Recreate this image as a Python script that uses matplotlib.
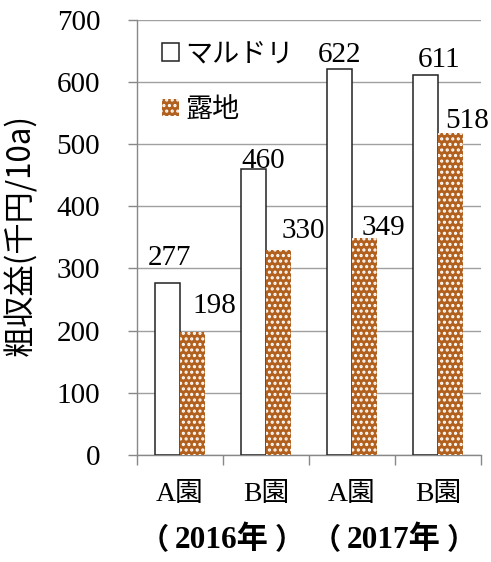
import matplotlib
matplotlib.use("Agg")
import matplotlib.pyplot as plt
import numpy as np

plt.rcParams['font.family'] = ['Liberation Serif', 'Noto Sans CJK JP']
plt.rcParams['hatch.linewidth'] = 1.5
plt.rcParams['hatch.color'] = 'white'

categories = ["A園", "B園", "A園", "B園"]
years = ["2016年", "2017年"]
maruduri = [277, 460, 622, 611]
roji = [198, 330, 349, 518]
series_names = ["マルドリ", "露地"]

# label placement (style): horizontal offset (category units), vertical gap (value units)
white_lbl_dx = [0.02, 0.11, 0.0, 0.15]
white_lbl_dy = [29, 2, 11, 13]
brown_lbl_dx = [0.26, 0.29, 0.215, 0.19]
brown_lbl_dy = [30, 19, 5, 9]

fig = plt.figure(figsize=(4.91, 5.62), dpi=100)
ax = fig.add_axes([0.279, 0.191, 0.701, 0.773])

x = np.arange(len(categories))
w = 0.29
brown = '#B2601E'
ax.bar(x - w/2, maruduri, w, color='white', edgecolor='#222222', linewidth=1.1,
       label=series_names[0], zorder=3)
ax.bar(x + w/2, roji, w, color=brown, edgecolor='white', hatch='...', linewidth=0,
       label=series_names[1], zorder=3)

FS = 21
for i in range(len(categories)):
    ax.text(x[i] - w/2 + white_lbl_dx[i], maruduri[i] + white_lbl_dy[i], str(maruduri[i]),
            ha='center', va='baseline', fontsize=FS, family='Liberation Serif', zorder=4)
    ax.text(x[i] + w/2 + brown_lbl_dx[i], roji[i] + brown_lbl_dy[i], str(roji[i]),
            ha='center', va='baseline', fontsize=FS, family='Liberation Serif', zorder=4)

ax.set_xlim(-0.5, 3.5)
ax.set_ylim(0, 700)
ax.set_yticks(range(0, 701, 100))
ax.tick_params(axis='y', labelsize=FS, length=6.5, color='#888888', width=1, pad=20)
ax.set_xticks([-0.5, 0.5, 1.5, 2.5, 3.5])
ax.set_xticklabels([])
ax.tick_params(axis='x', length=7.2, color='#888888', width=1)
ax.grid(axis='y', color='#A0A0A0', linewidth=1.0, zorder=0)
for s in ['top', 'right']:
    ax.spines[s].set_visible(False)
for s in ['left', 'bottom']:
    ax.spines[s].set_color('#888888')
    ax.spines[s].set_linewidth(1.0)

trans = ax.get_xaxis_transform()
for i, c in enumerate(categories):
    ax.text(x[i], -0.092, c, transform=trans, ha='center', va='center',
            fontsize=20, family=['Liberation Serif', 'Noto Sans CJK JP'])
for j, yl in enumerate(years):
    xc = 0.5 + 2 * j
    ax.annotate(yl, (xc, -0.196), xycoords=trans, xytext=(-1, 0), textcoords='offset points',
                ha='center', va='center',
                fontsize=22.5, family=['Liberation Serif', 'Noto Sans CJK JP'], fontweight='bold')
    ax.annotate("（", (xc, -0.196), xycoords=trans, xytext=(-39, 0), textcoords='offset points',
                ha='right', va='center', fontsize=21, family=['Noto Sans CJK JP'], fontweight='bold')
    ax.annotate("）", (xc, -0.196), xycoords=trans, xytext=(37, 0), textcoords='offset points',
                ha='left', va='center', fontsize=21, family=['Noto Sans CJK JP'], fontweight='bold')

ax.set_ylabel("粗収益(千円/10a)", fontsize=22.5, family=['Noto Sans CJK JP'])
ax.yaxis.set_label_coords(-0.29, 0.505)

leg = ax.legend(loc='upper left', bbox_to_anchor=(0.015, 1.0), frameon=False,
                prop={'family': ['Noto Sans CJK JP'], 'size': 19.5},
                handlelength=0.6, handleheight=0.6, handletextpad=0.25,
                labelspacing=1.05, borderaxespad=0.35)

fig.savefig("out.png", dpi=100, facecolor='white')
